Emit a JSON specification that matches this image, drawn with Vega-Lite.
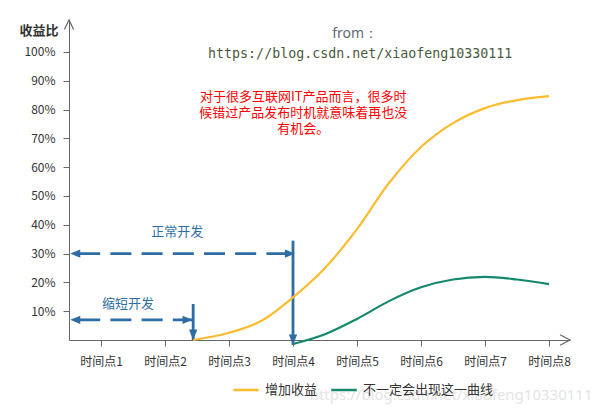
{
  "$schema": "https://vega.github.io/schema/vega-lite/v6.json",
  "width": 501,
  "height": 320,
  "autosize": {"type": "none"},
  "padding": {"left": 69, "top": 20, "right": 27, "bottom": 72},
  "background": "#ffffff",
  "config": {
    "view": {"stroke": null},
    "font": "Noto Sans CJK SC",
    "axis": {"labelFont": "Noto Sans CJK SC", "titleFont": "Noto Sans CJK SC"},
    "legend": {"labelFont": "Noto Sans CJK SC"}
  },
  "datasets": {
    "curves": [
      {"t": 2.44, "v": 0, "series": "增加收益"},
      {"t": 3.0, "v": 2.5, "series": "增加收益"},
      {"t": 3.5, "v": 6.6, "series": "增加收益"},
      {"t": 4.0, "v": 14.8, "series": "增加收益"},
      {"t": 4.5, "v": 25.0, "series": "增加收益"},
      {"t": 5.0, "v": 38.5, "series": "增加收益"},
      {"t": 5.5, "v": 54.5, "series": "增加收益"},
      {"t": 6.0, "v": 67.0, "series": "增加收益"},
      {"t": 6.5, "v": 75.3, "series": "增加收益"},
      {"t": 7.0, "v": 80.5, "series": "增加收益"},
      {"t": 7.5, "v": 83.3, "series": "增加收益"},
      {"t": 8.0, "v": 84.7, "series": "增加收益"},
      {"t": 4.0, "v": -1.4, "series": "不一定会出现这一曲线"},
      {"t": 4.5, "v": 2.0, "series": "不一定会出现这一曲线"},
      {"t": 5.0, "v": 7.3, "series": "不一定会出现这一曲线"},
      {"t": 5.5, "v": 13.5, "series": "不一定会出现这一曲线"},
      {"t": 6.0, "v": 18.3, "series": "不一定会出现这一曲线"},
      {"t": 6.5, "v": 21.0, "series": "不一定会出现这一曲线"},
      {"t": 7.0, "v": 21.9, "series": "不一定会出现这一曲线"},
      {"t": 7.5, "v": 21.0, "series": "不一定会出现这一曲线"},
      {"t": 8.0, "v": 19.4, "series": "不一定会出现这一曲线"}
    ],
    "hspans": [
      {"t": 0.5, "t2": 4.0, "v": 30},
      {"t": 0.5, "t2": 2.43, "v": 7}
    ],
    "vspans": [
      {"t": 4.0, "v": 34.5, "v2": -1.7},
      {"t": 2.44, "v": 12.5, "v2": 0}
    ],
    "heads": [
      {"t": 0.52, "v": 30, "dir": "left"},
      {"t": 0.52, "v": 7, "dir": "left"},
      {"t": 4.03, "v": 30, "dir": "right"},
      {"t": 2.43, "v": 7, "dir": "right"},
      {"t": 4.0, "v": -1.7, "dir": "down"},
      {"t": 2.44, "v": 0, "dir": "down"}
    ],
    "axisends": [
      {"t": 0.5, "v": 111.111, "dir": "up"},
      {"t": 8.328125, "v": 0, "dir": "right"}
    ],
    "bluelabels": [
      {"t": 2.19, "v": 37.5, "label": "正常开发"},
      {"t": 1.42, "v": 12.5, "label": "缩短开发"}
    ],
    "note": [
      {"t": 4.16, "v": 84.4, "label": "对于很多互联网IT产品而言，很多时\n候错过产品发布时机就意味着再也没\n有机会。"}
    ],
    "source": [
      {"t": 4.97, "v": 106.3, "label": "from："}
    ],
    "url": [
      {"t": 5.05, "v": 99.3, "label": "https://blog.csdn.net/xiaofeng10330111"}
    ],
    "watermark": [
      {"t": 6.47, "v": -19.1, "label": "https://blog.csdn.net/xiaofeng10330111"}
    ]
  },
  "encoding": {
    "x": {
      "field": "t",
      "type": "quantitative",
      "scale": {"domain": [0.5, 8.328125], "nice": false, "zero": false},
      "axis": {
        "values": [1, 2, 3, 4, 5, 6, 7, 8],
        "labelExpr": "'时间点' + datum.value",
        "title": null,
        "grid": false,
        "domainColor": "#666666",
        "tickColor": "#666666",
        "tickSize": 6,
        "labelFontSize": 12,
        "labelColor": "#333333",
        "labelPadding": 10
      }
    },
    "y": {
      "field": "v",
      "type": "quantitative",
      "scale": {"domain": [0, 111.111], "nice": false, "zero": false},
      "axis": {
        "values": [10, 20, 30, 40, 50, 60, 70, 80, 90, 100],
        "labelExpr": "datum.value + '%'",
        "title": "收益比",
        "titleAngle": 0,
        "titleX": -30.5,
        "titleY": 10.7,
        "titleAlign": "center",
        "titleBaseline": "middle",
        "titleFontSize": 13,
        "titleFontWeight": "bold",
        "titleColor": "#333333",
        "grid": false,
        "domainColor": "#666666",
        "tickColor": "#666666",
        "tickSize": 6,
        "labelFontSize": 12,
        "labelColor": "#333333",
        "labelPadding": 8
      }
    }
  },
  "layer": [
    {
      "data": {"name": "watermark"},
      "mark": {"type": "text", "fontSize": 15, "font": "Noto Sans", "color": "#e4e4e4", "align": "center", "baseline": "middle"},
      "encoding": {"text": {"field": "label"}}
    },
    {
      "data": {"name": "hspans"},
      "mark": {"type": "rule", "color": "#2E6DA4", "strokeWidth": 2.6, "strokeDash": [21, 10.2], "strokeDashOffset": 21},
      "encoding": {"x2": {"field": "t2"}}
    },
    {
      "data": {"name": "vspans"},
      "mark": {"type": "rule", "color": "#2E6DA4", "strokeWidth": 2.8},
      "encoding": {"y2": {"field": "v2"}}
    },
    {
      "data": {"name": "curves"},
      "mark": {"type": "line", "interpolate": "catmull-rom", "strokeWidth": 2.2},
      "encoding": {
        "color": {
          "field": "series",
          "type": "nominal",
          "scale": {"domain": ["增加收益", "不一定会出现这一曲线"], "range": ["#FDBB2F", "#14886C"]},
          "legend": {
            "orient": "none",
            "legendX": 163,
            "legendY": 356,
            "direction": "horizontal",
            "title": null,
            "symbolType": "stroke",
            "symbolSize": 650,
            "symbolStrokeWidth": 2.5,
            "labelFontSize": 13,
            "labelColor": "#333333",
            "labelOffset": 5,
            "columnPadding": 8,
            "padding": 0
          }
        }
      }
    },
    {
      "data": {"name": "heads"},
      "transform": [{"filter": "datum.dir === 'left'"}],
      "mark": {"type": "point", "shape": "M0,0L2.5,-1.05L2.5,1.05Z", "size": 64, "filled": true, "color": "#2E6DA4", "opacity": 1}
    },
    {
      "data": {"name": "heads"},
      "transform": [{"filter": "datum.dir === 'right'"}],
      "mark": {"type": "point", "shape": "M0,0L-2.5,-1.05L-2.5,1.05Z", "size": 64, "filled": true, "color": "#2E6DA4", "opacity": 1}
    },
    {
      "data": {"name": "heads"},
      "transform": [{"filter": "datum.dir === 'down'"}],
      "mark": {"type": "point", "shape": "M0,0L-1.05,-2.6L1.05,-2.6Z", "size": 64, "filled": true, "color": "#2E6DA4", "opacity": 1}
    },
    {
      "data": {"name": "axisends"},
      "transform": [{"filter": "datum.dir === 'up'"}],
      "mark": {"type": "point", "shape": "M-1.15,2.4L0,0L1.15,2.4", "size": 64, "filled": false, "color": "#666666", "strokeWidth": 1.2, "opacity": 1}
    },
    {
      "data": {"name": "axisends"},
      "transform": [{"filter": "datum.dir === 'right'"}],
      "mark": {"type": "point", "shape": "M-2.5,-1.3L0,0L-2.5,1.3", "size": 64, "filled": false, "color": "#666666", "strokeWidth": 1.2, "opacity": 1}
    },
    {
      "data": {"name": "bluelabels"},
      "mark": {"type": "text", "fontSize": 13, "color": "#2E6DA4", "align": "center", "baseline": "middle"},
      "encoding": {"text": {"field": "label"}}
    },
    {
      "data": {"name": "note"},
      "mark": {"type": "text", "fontSize": 13, "color": "#FF0000", "align": "center", "baseline": "middle", "lineBreak": "\n", "lineHeight": 16},
      "encoding": {"text": {"field": "label"}}
    },
    {
      "data": {"name": "source"},
      "mark": {"type": "text", "fontSize": 14, "font": "Noto Sans", "color": "#5d6b7a", "align": "center", "baseline": "middle"},
      "encoding": {"text": {"field": "label"}}
    },
    {
      "data": {"name": "url"},
      "mark": {"type": "text", "fontSize": 13.3, "font": "DejaVu Sans Mono", "color": "#4b5a3c", "align": "center", "baseline": "middle"},
      "encoding": {"text": {"field": "label"}}
    }
  ]
}
